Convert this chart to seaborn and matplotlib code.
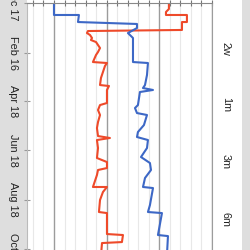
import numpy as np
import pandas as pd
import matplotlib
matplotlib.use("Agg")
import matplotlib.pyplot as plt
import seaborn as sns
from matplotlib.patches import Rectangle

sns.set_style("white")
plt.rcParams['font.family'] = ['Liberation Sans', 'DejaVu Sans']

# days since 1 Dec 2017, and values
red_day = [0, 7.4, 11.1, 14.8, 14.8, 23.5, 23.5, 33.3, 34.6, 37.1, 39.5, 43.2, 45.7,
           48.2, 51.9, 55.6, 60.5, 64.2, 72.9, 74.1, 77.8, 85.2, 92.6, 101.3, 102.5,
           107.4, 123.5, 126.0, 132.1, 138.3, 147.0, 154.4, 164.3, 166.7, 169.2, 179.1,
           191.4, 196.4, 203.8, 206.2, 212.4, 227.2, 227.2, 233.4, 243.3, 258.1, 259.4,
           285.3, 286.5, 295.2, 296.4, 312]
red_val = [159.1, 159.1, 156.3, 156.3, 176.2, 176.2, 171.5, 171.5, 82.3, 81.3, 84.2,
           86.1, 85.1, 89.9, 91.8, 93.7, 91.8, 89.9, 87.0, 100.3, 98.4, 96.5, 94.6, 93.7,
           102.2, 100.3, 100.3, 93.7, 91.8, 93.7, 91.8, 90.8, 91.8, 103.1, 90.8, 91.8,
           90.8, 100.3, 100.3, 91.8, 90.8, 87.0, 100.3, 96.5, 93.7, 92.7, 100.3, 100.3,
           115.5, 114.5, 95.6, 94.6]

blue_day = [0, 14.8, 14.8, 23.5, 25.9, 30.9, 37.1, 43.2, 72.9, 74.1, 88.9, 101.3, 105.0,
            107.4, 109.9, 126.0, 129.7, 135.9, 138.3, 150.7, 159.3, 165.5, 169.2, 179.1,
            190.2, 197.6, 206.2, 216.1, 227.2, 228.5, 249.5, 258.1, 259.4, 286.5, 287.8, 312]
blue_val = [50.0, 50.0, 73.7, 72.8, 128.8, 128.8, 120.2, 125.0, 125.0, 139.2, 138.3,
            136.4, 134.5, 144.0, 131.6, 129.7, 126.9, 128.8, 138.3, 135.4, 129.7, 128.8,
            139.2, 138.3, 132.6, 141.1, 142.1, 136.4, 134.5, 144.0, 141.1, 139.2, 152.5,
            148.7, 158.2, 157.2]

date_ticks = [0, 62, 121, 182, 243, 304]
date_labels = ["Dec 17", "Feb 16", "Apr 18", "Jun 18", "Aug 18", "Oct 18"]
range_labels = ["2w", "1m", "3m", "6m"]
range_pos = [57, 126, 196, 267]

df = pd.concat([
    pd.DataFrame({"day": red_day, "value": red_val, "series": "red"}),
    pd.DataFrame({"day": blue_day, "value": blue_val, "series": "blue"}),
])

fig = plt.figure(figsize=(2.5, 2.5), dpi=100)
fig.patch.set_facecolor("white")
fig.add_artist(Rectangle((0, 0), 27 / 250, 1, transform=fig.transFigure,
                         facecolor="#dedede", edgecolor="none", zorder=0))
fig.add_artist(Rectangle((242 / 250, 0), 8 / 250, 1, transform=fig.transFigure,
                         facecolor="#dedede", edgecolor="none", zorder=0))

ax = fig.add_axes([27 / 250, 0, 185 / 250, 247 / 250])
ax.set_facecolor("white")
sns.lineplot(data=df, x="value", y="day", hue="series", sort=False, estimator=None,
             palette={"red": "#ee4a2a", "blue": "#3d68c6"}, lw=1.5, legend=False, ax=ax)

ax.set_xlim(24.4, 200)
ax.set_ylim(305, 0)
ax.set_xticks([50, 100, 150, 200])
ax.set_xticks(np.arange(30, 200, 10), minor=True)
ax.grid(which="major", axis="x", color="#9c9c9c", lw=1.0)
ax.grid(which="minor", axis="x", color="#e8e8e8", lw=0.8)
ax.xaxis.set_ticks_position("top")
ax.tick_params(axis="x", which="both", direction="inout", length=4, width=0.8,
               color="#777777", labeltop=False, labelbottom=False)
ax.set_yticks(date_ticks)
ax.set_yticklabels(date_labels, rotation=-90, va="center", ha="right")
ax.tick_params(axis="y", direction="inout", length=5, width=0.8, color="#999999",
               pad=4, labelsize=7.8, labelcolor="#222222")
ax.spines["bottom"].set_visible(False)
ax.spines["top"].set_color("#888888")
ax.spines["left"].set_color("#bbbbbb")
ax.spines["right"].set_color("#9c9c9c")
ax.set_xlabel("")
ax.set_ylabel("")

ax2 = ax.twinx()
ax2.set_ylim(305, 0)
ax2.set_yticks(range_pos)
ax2.set_yticklabels(range_labels, rotation=-90, va="center", ha="center")
ax2.tick_params(axis="y", length=0, pad=10, labelsize=7.8, labelcolor="#222222")
for s in ax2.spines.values():
    s.set_visible(False)

fig.savefig("out.png", dpi=100)
